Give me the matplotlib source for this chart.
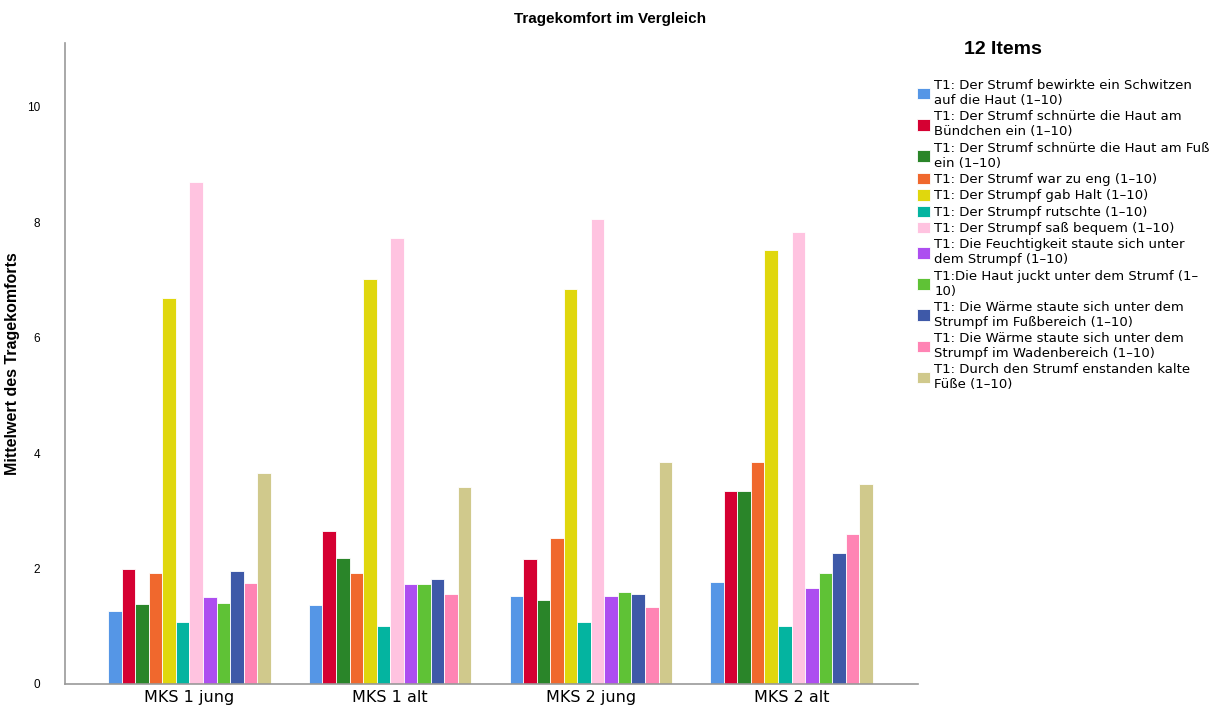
import matplotlib.pyplot as plt
import numpy as np

plt.rcParams['font.family'] = ['Liberation Sans', 'DejaVu Sans']

groups = ["MKS 1 jung", "MKS 1 alt", "MKS 2 jung", "MKS 2 alt"]

items = [
    "T1: Der Strumf bewirkte ein Schwitzen\nauf die Haut (1\u201310)",
    "T1: Der Strumf schnürte die Haut am\nBündchen ein (1\u201310)",
    "T1: Der Strumf schnürte die Haut am Fuß\nein (1\u201310)",
    "T1: Der Strumf war zu eng (1\u201310)",
    "T1: Der Strumpf gab Halt (1\u201310)",
    "T1: Der Strumpf rutschte (1\u201310)",
    "T1: Der Strumpf saß bequem (1\u201310)",
    "T1: Die Feuchtigkeit staute sich unter\ndem Strumpf (1\u201310)",
    "T1:Die Haut juckt unter dem Strumf (1\u2013\n10)",
    "T1: Die Wärme staute sich unter dem\nStrumpf im Fußbereich (1\u201310)",
    "T1: Die Wärme staute sich unter dem\nStrumpf im Wadenbereich (1\u201310)",
    "T1: Durch den Strumf enstanden kalte\nFüße (1\u201310)",
]

colors = ["#5596E6", "#D50032", "#2A8529", "#F0682D", "#E0D70D", "#04B4A0",
          "#FFC3E0", "#AD4EF0", "#5FC236", "#3E59A8", "#FF84B4", "#D0C98C"]

# mean values per item, one entry per group
schwitzen = [1.26, 1.37, 1.53, 1.76]
buendchen = [2.00, 2.65, 2.17, 3.34]
fuss = [1.38, 2.19, 1.45, 3.34]
eng = [1.92, 1.92, 2.53, 3.84]
halt = [6.69, 7.01, 6.84, 7.51]
rutschte = [1.07, 1.01, 1.07, 1.01]
bequem = [8.70, 7.73, 8.06, 7.83]
feuchtigkeit = [1.51, 1.73, 1.53, 1.67]
juckt = [1.41, 1.73, 1.59, 1.93]
waerme_fuss = [1.96, 1.82, 1.56, 2.26]
waerme_waden = [1.75, 1.55, 1.34, 2.59]
kalte_fuesse = [3.66, 3.41, 3.84, 3.46]

series = [schwitzen, buendchen, fuss, eng, halt, rutschte, bequem,
          feuchtigkeit, juckt, waerme_fuss, waerme_waden, kalte_fuesse]

fig = plt.figure(figsize=(12.24, 7.11), dpi=100)
ax = fig.add_axes([65 / 1224, 1 - 684 / 711, (918 - 65) / 1224, (684 - 43) / 711])

x = np.arange(len(groups))
n = len(series)
w = 0.81 / n
for i, vals in enumerate(series):
    ax.bar(x + (i - (n - 1) / 2) * w, vals, width=w, color=colors[i],
           edgecolor="white", linewidth=0.6, label=items[i])

ax.set_xlim(-0.62, 3.63)
ax.set_ylim(0, 11.1)
ax.set_yticks([0, 2, 4, 6, 8, 10])
ax.set_xticks(x)
ax.set_xticklabels(groups, fontsize=11.5, family=['DejaVu Sans'])
ax.tick_params(axis='y', labelsize=8.5, length=0, pad=18)
ax.tick_params(axis='x', length=0, pad=4)
for s in ['top', 'right']:
    ax.spines[s].set_visible(False)
for s in ['left', 'bottom']:
    ax.spines[s].set_color('#999999')
    ax.spines[s].set_linewidth(1.2)

ax.set_ylabel("Mittelwert des Tragekomforts", fontsize=11.5, fontweight='bold')
ax.yaxis.set_label_coords((20 - 65) / 853, 0.5)
fig.text(610 / 1224, 1 - 19 / 711, "Tragekomfort im Vergleich", ha='center', va='center',
         fontsize=11, fontweight='bold')

fig.text(1003 / 1224, 1 - 49 / 711, "12 Items", ha='center', va='center',
         fontsize=14, fontweight='bold')
fig.legend(loc='upper left', bbox_to_anchor=(912 / 1224, 1 - 74 / 711),
           frameon=False, prop={'family': ['DejaVu Sans'], 'size': 9.5},
           handlelength=0.95, handleheight=0.95, handletextpad=0.35, labelspacing=0.24,
           borderaxespad=0)

fig.savefig("out.png", dpi=100)
